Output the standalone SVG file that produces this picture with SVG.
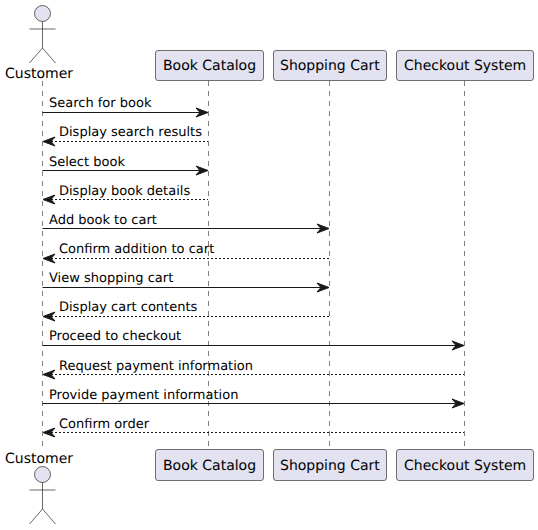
<svg xmlns="http://www.w3.org/2000/svg" width="538" height="530" viewBox="0 0 538 530">
<style>
text{font-family:"DejaVu Sans",sans-serif;font-size:14px;fill:#000;text-rendering:geometricPrecision}
#connectors text{font-size:13px}
.life{stroke:#181818;stroke-opacity:.55;stroke-width:1;stroke-dasharray:5,5;fill:none}
.box{fill:#E2E2F0;stroke:#181818;stroke-opacity:.6;stroke-width:1}
.act{fill:none;stroke:#181818;stroke-opacity:.65;stroke-width:1}
.head{fill:#E2E2F0;stroke:#181818;stroke-opacity:.65;stroke-width:1}
.m{stroke:#181818;stroke-width:1;fill:none}
.r{stroke-dasharray:2,2}
.ah{fill:#181818;stroke:#181818;stroke-width:1}
</style>
<rect width="538" height="530" fill="#fff"/>
<g id="lifelines">
<line class="life" x1="42.5" y1="81" x2="42.5" y2="448"/>
<line class="life" x1="208.5" y1="81" x2="208.5" y2="448"/>
<line class="life" x1="329.5" y1="81" x2="329.5" y2="448"/>
<line class="life" x1="464.5" y1="81" x2="464.5" y2="448"/>
</g>
<g id="customer-top">
<circle class="head" cx="42.5" cy="13.5" r="8"/>
<path class="act" d="M42.5 21.5V48M29.5 29H55.5M42.5 48L29.5 63M42.5 48L55.5 63"/>
<text x="5" y="78">Customer</text>
</g>
<g id="book-catalog-top"><rect class="box" x="155.5" y="50.5" width="108" height="30" rx="2.5"/><text x="163" y="70">Book Catalog</text></g>
<g id="shopping-cart-top"><rect class="box" x="273.5" y="50.5" width="113" height="30" rx="2.5"/><text x="280" y="70">Shopping Cart</text></g>
<g id="checkout-system-top"><rect class="box" x="396.5" y="50.5" width="137" height="30" rx="2.5"/><text x="404" y="70">Checkout System</text></g>
<g id="customer-bottom">
<text x="5" y="463">Customer</text>
<circle class="head" cx="42.5" cy="474.5" r="8"/>
<path class="act" d="M42.5 482.5V509M29.5 490H55.5M42.5 509L29.5 524M42.5 509L55.5 524"/>
</g>
<g id="book-catalog-bottom"><rect class="box" x="155.5" y="449.5" width="108" height="31" rx="2.5"/><text x="163" y="470">Book Catalog</text></g>
<g id="shopping-cart-bottom"><rect class="box" x="273.5" y="449.5" width="113" height="31" rx="2.5"/><text x="280" y="470">Shopping Cart</text></g>
<g id="checkout-system-bottom"><rect class="box" x="396.5" y="449.5" width="137" height="31" rx="2.5"/><text x="404" y="470">Checkout System</text></g>
<defs>
<path id="ar" class="ah" d="M0 0L-12 -4.5L-8 0L-12 4.5Z"/>
<path id="al" class="ah" d="M0 0L12 -4.5L8 0L12 4.5Z"/>
</defs>
<g id="connectors">
<line class="m" x1="42.5" y1="112.5" x2="204" y2="112.5"/><use href="#ar" x="208" y="112.5"/><text x="49" y="107">Search for book</text>
<line class="m r" x1="47" y1="141.5" x2="208" y2="141.5"/><use href="#al" x="43" y="141.5"/><text x="59" y="136">Display search results</text>
<line class="m" x1="42.5" y1="170.5" x2="204" y2="170.5"/><use href="#ar" x="208" y="170.5"/><text x="49" y="166">Select book</text>
<line class="m r" x1="47" y1="199.5" x2="208" y2="199.5"/><use href="#al" x="43" y="199.5"/><text x="59" y="195">Display book details</text>
<line class="m" x1="42.5" y1="228.5" x2="325" y2="228.5"/><use href="#ar" x="329" y="228.5"/><text x="49" y="224">Add book to cart</text>
<line class="m r" x1="47" y1="258.5" x2="329" y2="258.5"/><use href="#al" x="43" y="258.5"/><text x="59" y="253">Confirm addition to cart</text>
<line class="m" x1="42.5" y1="287.5" x2="325" y2="287.5"/><use href="#ar" x="329" y="287.5"/><text x="49" y="282">View shopping cart</text>
<line class="m r" x1="47" y1="316.5" x2="329" y2="316.5"/><use href="#al" x="43" y="316.5"/><text x="59" y="311">Display cart contents</text>
<line class="m" x1="42.5" y1="345.5" x2="460" y2="345.5"/><use href="#ar" x="464" y="345.5"/><text x="49" y="340">Proceed to checkout</text>
<line class="m r" x1="47" y1="374.5" x2="464" y2="374.5"/><use href="#al" x="43" y="374.5"/><text x="59" y="370">Request payment information</text>
<line class="m" x1="42.5" y1="403.5" x2="460" y2="403.5"/><use href="#ar" x="464" y="403.5"/><text x="49" y="399">Provide payment information</text>
<line class="m r" x1="47" y1="432.5" x2="464" y2="432.5"/><use href="#al" x="43" y="432.5"/><text x="59" y="428">Confirm order</text>
</g>
</svg>
